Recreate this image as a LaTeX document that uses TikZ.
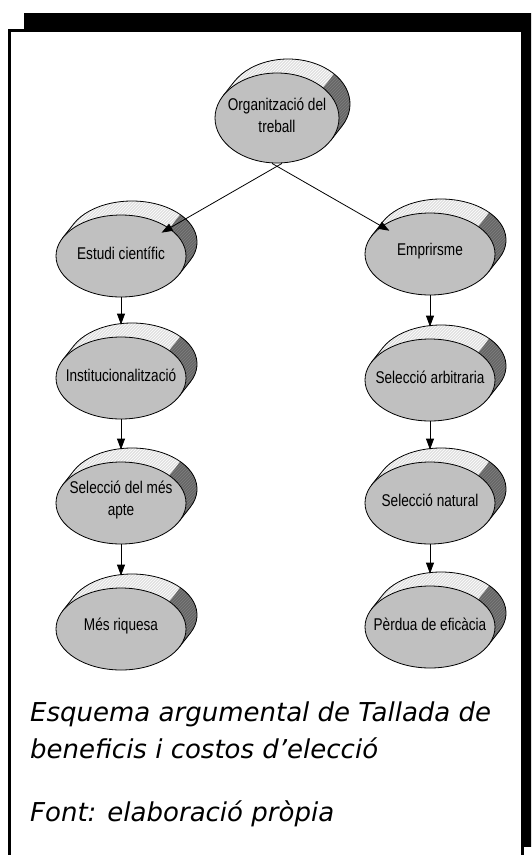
\documentclass[tikz,border=0pt]{standalone}
\usepackage{fontspec}
\newfontfamily\discfont[FakeStretch=0.8]{Liberation Sans}
\newfontfamily\capfont{DejaVu Sans Oblique}
\usepackage{tikz}
\usetikzlibrary{shapes.geometric,arrows.meta,calc,patterns}
\tikzset{>={Triangle[length=11pt,width=8pt]}}
\definecolor{discgray}{HTML}{C0C0C0}
\definecolor{sidelight}{HTML}{E0E0E0}
\definecolor{sidedark}{HTML}{666666}
\tikzset{
  disc/.style={ellipse, draw, line width=0.8pt, fill=discgray, inner sep=0pt},
  disclabel/.style={font=\discfont\fontsize{17}{22}\selectfont, align=center, inner sep=0pt},
  lightface/.style={fill=sidelight, postaction={pattern=north east lines, pattern color=white}},
  darkface/.style={fill=sidedark, postaction={pattern=north east lines, pattern color=gray}},
  link/.style={->, line width=0.8pt},
  caption/.style={font=\capfont\fontsize{26}{37}\selectfont, inner sep=0pt, anchor=base west}
}
% disc with its side: name, x, y, x radius, y radius, text
\newcommand{\disc}[6]{%
  \pgfmathsetmacro{\tA}{atan(11*#5/(14*#4))}%
  \pgfmathsetmacro{\tB}{\tA+180}%
  \pgfmathsetmacro{\tC}{\tA+360}%
  \coordinate (#1-c) at (#2,#3);
  \path[lightface] ($(#1-c)+(11,-14)+(\tB:#4 and #5)$) arc[start angle=\tB,end angle=\tC,x radius=#4,y radius=#5]
    -- ($(#1-c)+(\tA:#4 and #5)$) arc[start angle=\tC,end angle=\tB,x radius=#4,y radius=#5] -- cycle;
  \path[darkface] ($(#1-c)+(11,-14)+(318:#4 and #5)$) arc[start angle=318,end angle=\tC,x radius=#4,y radius=#5]
    -- ($(#1-c)+(\tA:#4 and #5)$) arc[start angle=\tC,end angle=318,x radius=#4,y radius=#5] -- cycle;
  \draw[line width=0.8pt] ($(#1-c)+(\tB:#4 and #5)$) -- ++(11,-14)
    arc[start angle=\tB,end angle=\tC,x radius=#4,y radius=#5] -- ($(#1-c)+(\tA:#4 and #5)$);
  \node[disc, minimum width=2*#4, minimum height=2*#5] (#1) at (#1-c) {};
  \node[disclabel] (#1-t) at ([yshift=3pt]#1-c) {#6};
}

\begin{document}
\begin{tikzpicture}[x=1pt,y=-1pt]
  \clip (0,0) rectangle (531,855);
  % frame and its shadow
  \fill (24,13) rectangle (545,847);
  \draw[line width=3pt, fill=white] (9.5,30.5) rectangle (522,880);

  \disc{top}{277}{118}{62}{45}{Organització del\\treball}
  \disc{estudi}{121}{256}{65}{41}{Estudi científic}
  \disc{instit}{121}{378}{65}{41}{Institucionalització}
  \disc{apte}{121}{503}{65}{41}{Selecció del més\\apte}
  \disc{riquesa}{121}{629}{65}{41}{Més riquesa}
  \disc{empir}{430}{254}{65}{41}{Emprirsme}
  \disc{arbitr}{430}{380}{65}{41}{Selecció arbitraria}
  \disc{natural}{430}{503}{65}{41}{Selecció natural}
  \disc{perdua}{430}{627}{65}{41}{Pèrdua de eficàcia}

  \draw[link, shorten >=-9pt] ([xshift=5pt]top.south) -- (estudi);
  \draw[link, shorten >=-9pt] ([xshift=-5pt]top.south) -- (empir);
  \draw[link, shorten >=12pt] (estudi) -- (instit);
  \draw[link, shorten >=12pt] (instit) -- (apte);
  \draw[link, shorten >=12pt] (apte) -- (riquesa);
  \draw[link, shorten >=12pt] (empir) -- (arbitr);
  \draw[link, shorten >=12pt] (arbitr) -- (natural);
  \draw[link, shorten >=12pt] (natural) -- (perdua);

  \node[caption] (cap1) at (30,721) {Esquema argumental de Tallada de};
  \node[caption] (cap2) at (30,758) {beneficis i costos d’elecció};
  \node[caption] (src) at (30,821) {Font: elaboració pròpia};
\end{tikzpicture}
\end{document}
